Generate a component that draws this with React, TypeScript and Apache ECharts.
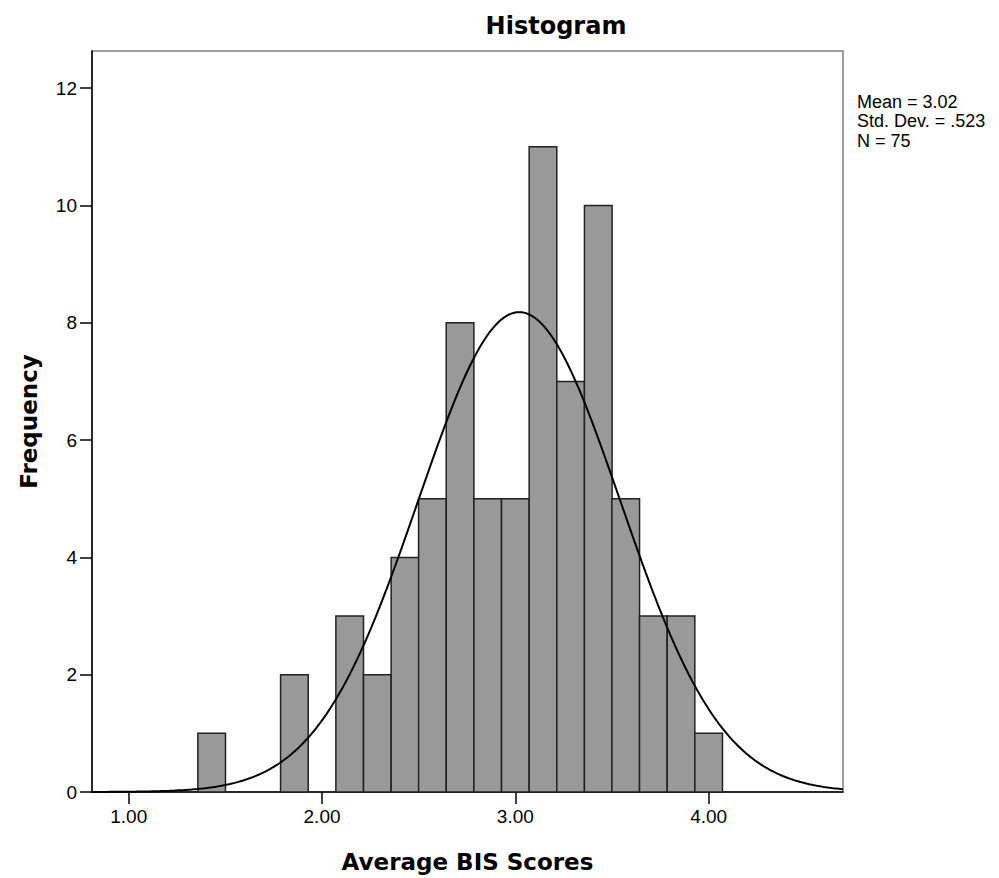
import React, { useEffect, useRef } from "react";
import * as echarts from "echarts";

// Histogram bins (bin centers) and their frequencies
const binCenters = [1.429, 1.857, 2.143, 2.286, 2.429, 2.571, 2.714, 2.857, 3.0, 3.143, 3.286, 3.429, 3.571, 3.714, 3.857, 4.0];
const frequencies = [1, 2, 3, 2, 4, 5, 8, 5, 5, 11, 7, 10, 5, 3, 3, 1];
const binWidth = 0.143;

// Summary statistics shown on the chart (define the fitted normal curve)
const statMean = 3.02;
const statStdDev = 0.523;
const statN = 75;
const statLines = ["Mean = 3.02", "Std. Dev. = .523", "N = 75"];

// Axis ticks
const xTicks = [1, 2, 3, 4];
const yTicks = [0, 2, 4, 6, 8, 10, 12];
const xMin = 0.81;
const xMax = 4.695;
const yMax = 12.633;

const normalCurve = (): number[][] => {
  const pts: number[][] = [];
  const steps = 400;
  for (let i = 0; i <= steps; i++) {
    const x = xMin + ((xMax - xMin) * i) / steps;
    const z = (x - statMean) / statStdDev;
    const y = (statN * binWidth * Math.exp(-0.5 * z * z)) / (statStdDev * Math.sqrt(2 * Math.PI));
    pts.push([x, y]);
  }
  return pts;
};

export default function App() {
  const ref = useRef<HTMLDivElement>(null);
  useEffect(() => {
    if (!ref.current) return;
    const chart = echarts.init(ref.current, null, { renderer: "svg" });
    const regular = "'Liberation Sans', Arial, sans-serif";
    const bold = "'DejaVu Sans', sans-serif";
    chart.setOption({
      animation: false,
      backgroundColor: "#ffffff",
      textStyle: { fontFamily: regular, color: "#000" },
      grid: {
        left: 92,
        top: 51,
        right: 156,
        bottom: 83,
        show: true,
        borderColor: "#808080",
        borderWidth: 1.5,
        backgroundColor: "transparent",
      },
      xAxis: {
        type: "value",
        min: xMin,
        max: xMax,
        name: "Average BIS Scores",
        nameLocation: "middle",
        nameGap: 58,
        nameTextStyle: { fontFamily: bold, fontWeight: "bold", fontSize: 23, color: "#000" },
        axisLine: { onZero: false, lineStyle: { color: "#000", width: 1.5 } },
        axisTick: { show: true, customValues: xTicks, length: 12, lineStyle: { color: "#000", width: 1.5 } },
        axisLabel: {
          customValues: xTicks,
          formatter: (v: number) => v.toFixed(2),
          fontSize: 19,
          fontFamily: regular,
          color: "#000",
          margin: 15,
        },
        splitLine: { show: false },
      },
      yAxis: {
        type: "value",
        min: 0,
        max: yMax,
        name: "Frequency",
        nameLocation: "middle",
        nameGap: 52,
        nameRotate: 90,
        nameTextStyle: { fontFamily: bold, fontWeight: "bold", fontSize: 23, color: "#000" },
        axisLine: { show: true, lineStyle: { color: "#000", width: 1.5 } },
        axisTick: { show: true, customValues: yTicks, length: 12, lineStyle: { color: "#000", width: 1.5 } },
        axisLabel: {
          customValues: yTicks,
          fontSize: 19,
          fontFamily: regular,
          color: "#000",
          margin: 15,
          padding: [7, 0, 0, 0],
        },
        splitLine: { show: false },
      },
      graphic: [
        {
          type: "text",
          x: 556,
          y: 26,
          style: {
            text: "Histogram",
            align: "center",
            verticalAlign: "middle",
            font: `bold 24px ${bold}`,
            fill: "#000",
          },
        },
        {
          type: "text",
          x: 857,
          y: 92,
          style: {
            text: statLines.join("\n"),
            align: "left",
            verticalAlign: "top",
            font: `18px ${regular}`,
            lineHeight: 19.5,
            fill: "#000",
          },
        },
      ],
      series: [
        {
          type: "custom",
          data: binCenters.map((c, i) => [c, frequencies[i]]),
          encode: { x: 0, y: 1 },
          renderItem: (params: any, api: any) => {
            const c = api.value(0);
            const v = api.value(1);
            const p0 = api.coord([c - binWidth / 2, v]);
            const p1 = api.coord([c + binWidth / 2, 0]);
            return {
              type: "rect",
              shape: { x: p0[0], y: p0[1], width: p1[0] - p0[0], height: p1[1] - p0[1] },
              style: { fill: "#999999", stroke: "#222222", lineWidth: 1.5 },
            };
          },
          z: 2,
        },
        {
          type: "line",
          data: normalCurve(),
          showSymbol: false,
          smooth: false,
          lineStyle: { color: "#000", width: 2 },
          z: 3,
        },
      ],
    });
    return () => chart.dispose();
  }, []);
  return <div ref={ref} style={{ position: "absolute", left: 0, top: 0, width: 999, height: 878 }} />;
}
